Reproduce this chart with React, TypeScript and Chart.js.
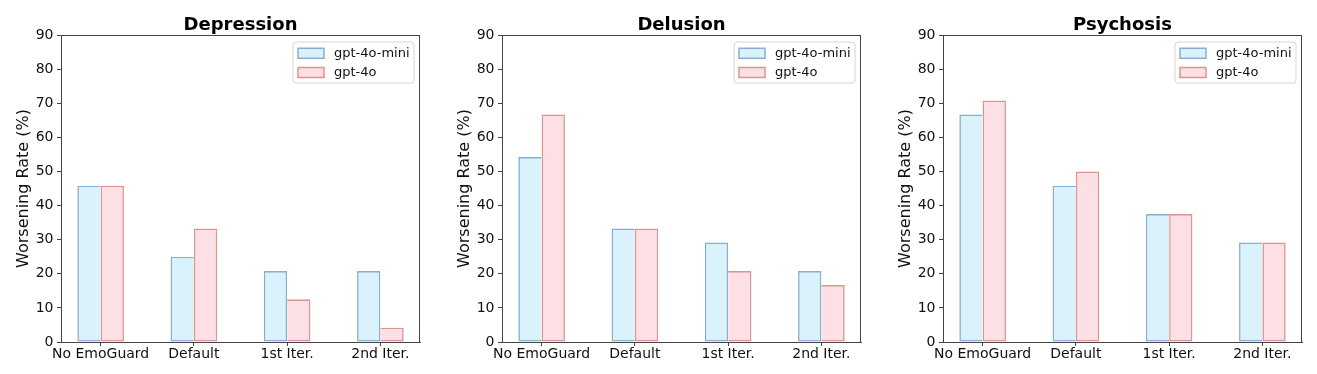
import React, { useEffect, useRef } from "react";
import { Chart, registerables } from "chart.js";

Chart.register(...registerables);

const categories = ["No EmoGuard", "Default", "1st Iter.", "2nd Iter."];
const seriesNames = ["gpt-4o-mini", "gpt-4o"];
const panelTitles = ["Depression", "Delusion", "Psychosis"];

const depressionMini = [45.8, 25.0, 20.8, 20.8];
const depression4o = [45.8, 33.3, 12.5, 4.2];
const delusionMini = [54.2, 33.3, 29.2, 20.8];
const delusion4o = [66.7, 33.3, 20.8, 16.7];
const psychosisMini = [66.7, 45.8, 37.5, 29.2];
const psychosis4o = [70.8, 50.0, 37.5, 29.2];

const yTicks = [0, 10, 20, 30, 40, 50, 60, 70, 80, 90];
const yLabel = "Worsening Rate (%)";

const panelSeries = [
  [depressionMini, depression4o],
  [delusionMini, delusion4o],
  [psychosisMini, psychosis4o],
];

const FONT = "'DejaVu Sans', 'Liberation Sans', sans-serif";
const TEXT = "#111111";
const AXIS = "#444444";
const fills = ["#d9f2fb", "#fde0e5"];
const edges = ["#8aaed0", "#de9390"];
const BW = 1.6;

const framePlugin = {
  id: "frame",
  afterDatasetsDraw(chart: any) {
    const { ctx, chartArea: a } = chart;
    ctx.save();
    ctx.strokeStyle = AXIS;
    ctx.lineWidth = 1;
    ctx.beginPath();
    ctx.moveTo(a.left, a.top + 0.5);
    ctx.lineTo(a.right, a.top + 0.5);
    ctx.moveTo(a.right - 0.5, a.top);
    ctx.lineTo(a.right - 0.5, a.bottom);
    ctx.stroke();
    ctx.restore();
  },
};

const areaTitlePlugin = {
  id: "areaTitle",
  afterDraw(chart: any, _args: any, opts: any) {
    const { ctx, chartArea: a } = chart;
    ctx.save();
    ctx.fillStyle = "#000";
    ctx.font = `bold 18px ${FONT}`;
    ctx.textAlign = "center";
    ctx.textBaseline = "alphabetic";
    ctx.fillText(opts.text, (a.left + a.right) / 2, 30);
    ctx.restore();
  },
};

const boxLegendPlugin = {
  id: "boxLegend",
  afterDraw(chart: any) {
    const { ctx, chartArea: a } = chart;
    const w = 121;
    const h = 41;
    const x = a.right - 6 - w;
    const y = a.top + 7;
    ctx.save();
    ctx.beginPath();
    const r = 3;
    ctx.moveTo(x + r, y);
    ctx.lineTo(x + w - r, y);
    ctx.quadraticCurveTo(x + w, y, x + w, y + r);
    ctx.lineTo(x + w, y + h - r);
    ctx.quadraticCurveTo(x + w, y + h, x + w - r, y + h);
    ctx.lineTo(x + r, y + h);
    ctx.quadraticCurveTo(x, y + h, x, y + h - r);
    ctx.lineTo(x, y + r);
    ctx.quadraticCurveTo(x, y, x + r, y);
    ctx.closePath();
    ctx.fillStyle = "rgba(255,255,255,0.85)";
    ctx.fill();
    ctx.strokeStyle = "#d6d6d6";
    ctx.lineWidth = 1;
    ctx.stroke();
    chart.data.datasets.forEach((ds: any, i: number) => {
      const cy = y + 11.3 + i * 19.2;
      ctx.fillStyle = ds.backgroundColor;
      ctx.fillRect(x + 5, cy - 5, 26, 10);
      ctx.strokeStyle = ds.borderColor;
      ctx.lineWidth = 1.5;
      ctx.strokeRect(x + 5, cy - 5, 26, 10);
      ctx.fillStyle = TEXT;
      ctx.font = `13px ${FONT}`;
      ctx.textBaseline = "middle";
      ctx.textAlign = "left";
      ctx.fillText(ds.label, x + 41, cy);
    });
    ctx.restore();
  },
};

function Panel({ index }: { index: number }) {
  const ref = useRef<HTMLCanvasElement | null>(null);
  useEffect(() => {
    if (!ref.current) return;
    const [mini, full] = panelSeries[index];
    const series = [mini, full];
    const chart = new Chart(ref.current, {
      type: "bar",
      data: {
        datasets: series.map((vals, si) => ({
          label: seriesNames[si],
          data: vals.map((v, ci) => ({ x: ci, y: v })),
          backgroundColor: fills[si],
          borderColor: edges[si],
          borderWidth: (c: any) => {
            const i = c.dataIndex;
            if (si === 0) {
              return { top: BW, left: BW, bottom: BW, right: full[i] >= mini[i] ? 0 : BW };
            }
            return { top: BW, right: BW, bottom: BW, left: mini[i] > full[i] ? 0 : BW };
          },
          borderSkipped: false,
          inflateAmount: 0,
          categoryPercentage: 0.5,
          barPercentage: 1.0,
        })),
      },
      options: {
        animation: false,
        responsive: false,
        maintainAspectRatio: false,
        events: [],
        layout: { padding: { left: 0, right: 21, top: 35, bottom: 0 } },
        plugins: {
          legend: { display: false },
          tooltip: { enabled: false },
          title: { display: false },
          areaTitle: { text: panelTitles[index] },
        },
        scales: {
          x: {
            type: "linear",
            min: -0.425,
            max: 3.425,
            offset: false,
            afterBuildTicks: (scale: any) => {
              scale.ticks = categories.map((_, i) => ({ value: i }));
            },
            afterFit: (scale: any) => {
              scale.height = 32;
            },
            grid: {
              display: true,
              offset: false,
              drawOnChartArea: false,
              drawTicks: true,
              tickLength: 4,
              tickColor: AXIS,
            },
            border: { display: true, color: AXIS, width: 1 },
            ticks: {
              color: TEXT,
              font: { family: FONT, size: 14 },
              padding: 0,
              maxRotation: 0,
              autoSkip: false,
              callback: (v: any) => categories[Math.round(Number(v))] ?? "",
            },
          },
          y: {
            type: "linear",
            min: 0,
            max: 90,
            afterBuildTicks: (scale: any) => {
              scale.ticks = yTicks.map((v) => ({ value: v }));
            },
            afterFit: (scale: any) => {
              scale.width = 61;
            },
            grid: {
              display: true,
              drawOnChartArea: false,
              drawTicks: true,
              tickLength: 4,
              tickColor: AXIS,
            },
            border: { display: true, color: AXIS, width: 1 },
            ticks: {
              color: TEXT,
              font: { family: FONT, size: 14 },
              padding: 3.5,
            },
            title: {
              display: true,
              text: yLabel,
              color: TEXT,
              font: { family: FONT, size: 16 },
              padding: { top: 14.5, bottom: 0 },
            },
          },
        },
      },
      plugins: [framePlugin, boxLegendPlugin, areaTitlePlugin],
    } as any);
    return () => chart.destroy();
  }, [index]);
  return (
    <canvas
      ref={ref}
      width={441}
      height={374}
      style={{ position: "absolute", left: index * 441, top: 0, width: 441, height: 374 }}
    />
  );
}

export default function App() {
  return (
    <div
      style={{
        position: "absolute",
        left: 0,
        top: 0,
        width: 1317,
        height: 374,
        overflow: "hidden",
        background: "#fff",
      }}
    >
      {panelTitles.map((_, i) => (
        <Panel key={i} index={i} />
      ))}
    </div>
  );
}
